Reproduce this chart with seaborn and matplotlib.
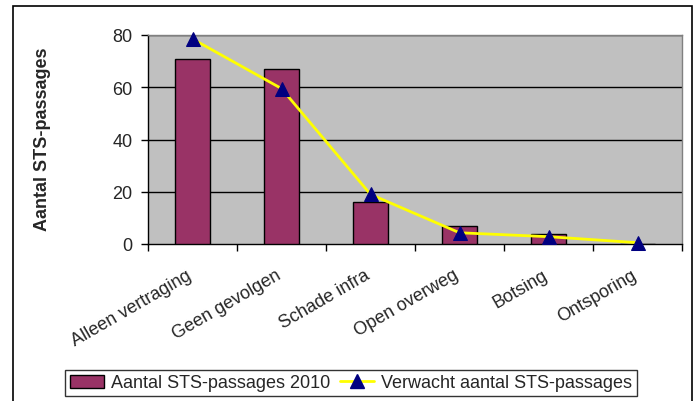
import numpy as np
import matplotlib
matplotlib.use('Agg')
import matplotlib.pyplot as plt
import matplotlib.patches as mpatches
from matplotlib.lines import Line2D
import seaborn as sns

# Data
categories = ['Alleen vertraging', 'Geen gevolgen', 'Schade infra',
              'Open overweg', 'Botsing', 'Ontsporing']
passages_2010 = [71, 67, 16, 7, 4, 0]
expected = [78.5, 59.5, 19, 4.3, 2.8, 0.5]
y_ticks = [0, 20, 40, 60, 80]

bar_color = '#993366'
line_color = '#FFFF00'
marker_color = '#000080'

sns.set_style('white')
plt.rcParams['font.family'] = ['Liberation Sans', 'DejaVu Sans']
fs = 13

fig = plt.figure(figsize=(6.97, 4.02), dpi=100)
ax = fig.add_axes([148 / 697, 1 - 245 / 402, (682 - 148) / 697, (245 - 36) / 402])
ax.set_facecolor('#C0C0C0')

sns.barplot(x=categories, y=passages_2010, color=bar_color, width=0.4,
            edgecolor='black', linewidth=1, saturation=1, ax=ax, zorder=3)
sns.lineplot(x=np.arange(len(categories)), y=expected, color=line_color,
             linewidth=2, marker='^', markersize=10,
             markerfacecolor=marker_color, markeredgecolor=marker_color,
             ax=ax, zorder=4, clip_on=False)

ax.set_xlim(-0.5, len(categories) - 0.5)
ax.set_ylim(0, 80)
ax.set_yticks(y_ticks)
ax.set_yticklabels([str(v) for v in y_ticks], fontsize=fs)
for v in y_ticks[1:]:
    ax.axhline(v, color='black', linewidth=1, zorder=1)

# ticks between categories, labels at centers
ax.set_xticks(np.arange(-0.5, len(categories)), minor=True)
ax.set_xticks(np.arange(len(categories)))
ax.set_xticklabels(categories, rotation=30, ha='right', va='baseline',
                   rotation_mode='anchor', fontsize=fs)
ax.tick_params(axis='x', which='major', length=0, pad=24)
ax.tick_params(axis='x', which='minor', length=5, width=1, color='black',
               direction='out', bottom=True)
ax.tick_params(axis='y', length=5, width=1, color='black', direction='out',
               left=True, pad=6)

for side in ['left', 'bottom']:
    ax.spines[side].set_color('black')
    ax.spines[side].set_linewidth(1)
for side in ['top', 'right']:
    ax.spines[side].set_color('#808080')
    ax.spines[side].set_linewidth(1)
ax.spines['top'].set_visible(True)
ax.spines['right'].set_visible(True)

ax.set_xlabel('')
ax.set_ylabel('Aantal STS-passages', fontsize=fs, fontweight='bold')
ax.yaxis.set_label_coords((51 - 148) / 534, (245 - 139) / 209)

# legend
handles = [mpatches.Patch(facecolor=bar_color, edgecolor='black', linewidth=1),
           Line2D([0], [0], color=line_color, linewidth=2, marker='^',
                  markersize=10, markerfacecolor=marker_color,
                  markeredgecolor=marker_color)]
labels = ['Aantal STS-passages 2010', 'Verwacht aantal STS-passages']
leg = fig.legend(handles, labels, loc='center', bbox_to_anchor=(351 / 697, 1 - 384 / 402),
                 ncol=2, frameon=True, fancybox=False, fontsize=fs,
                 handlelength=1.9, handletextpad=0.4, columnspacing=0.5,
                 borderpad=0.25, borderaxespad=0)
leg.get_frame().set_edgecolor('black')
leg.get_frame().set_linewidth(1)

# outer chart frame
frame = mpatches.Rectangle((13 / 697, -0.05), (692 - 13) / 697, 1 - 7 / 402 + 0.05,
                           transform=fig.transFigure, fill=False,
                           edgecolor='black', linewidth=1.2, clip_on=False)
fig.patches.append(frame)

fig.savefig('out.png', dpi=100, facecolor='white')
